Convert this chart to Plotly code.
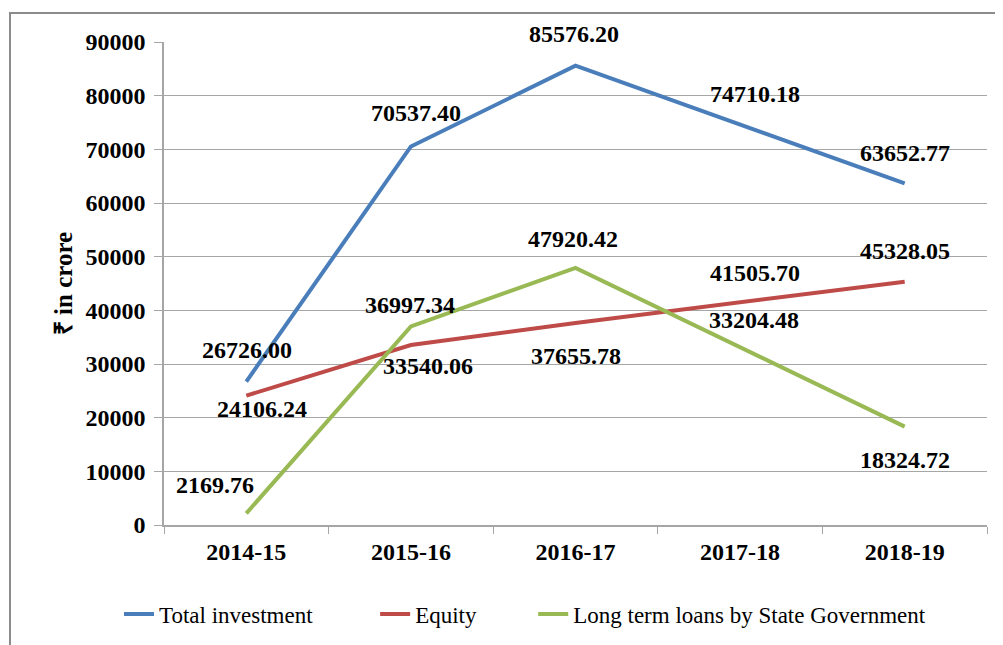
import plotly.graph_objects as go

years = ["2014-15", "2015-16", "2016-17", "2017-18", "2018-19"]
total_investment = [26726.00, 70537.40, 85576.20, 74710.18, 63652.77]
equity = [24106.24, 33540.06, 37655.78, 41505.70, 45328.05]
long_term_loans = [2169.76, 36997.34, 47920.42, 33204.48, 18324.72]

series_names = ["Total investment", "Equity", "Long term loans by State Government"]
series_values = [total_investment, equity, long_term_loans]
colors = ["#4A7EBB", "#BE4B48", "#98B954"]

# pixel offsets of the data labels (dx, dy up)
label_offsets = [
    [(1, 32), (5, 33), (-2, 32), (15, 30), (0, 30)],
    [(16, -13), (17, -21), (0, -33), (15, 29), (0, 31)],
    [(-31, 28), (-1, 21), (-3, 29), (14, 27), (0, -33)],
]
legend_pads = [10, 9, 0]

FONT = "Liberation Serif"
GRID = "#A6A6A6"
OFF = 8  # page body margin
L, R, T, B = 164 - OFF, 16 + OFF, 42 - OFF, 120 + OFF
W, H = 1003, 645
PW, PH = W - L - R, H - T - B

def px_x(sx):
    return (sx - OFF - L) / PW

def px_y(sy):
    return (H - B - (sy - OFF)) / PH

fig = go.Figure()
for name, vals, col, pad in zip(series_names, series_values, colors, legend_pads):
    fig.add_trace(go.Scatter(
        x=years, y=vals, name=name + "\u00a0" * pad, mode="lines",
        line=dict(color=col, width=4),
    ))

annotations = []
for vals, offs in zip(series_values, label_offsets):
    for xv, yv, (dx, dy) in zip(years, vals, offs):
        annotations.append(dict(
            x=xv, y=yv, xref="x", yref="y", text=f"{yv:.2f}",
            showarrow=False, xshift=dx, yshift=dy,
            font=dict(family=FONT, size=24, color="black", weight="bold"),
        ))

fig.update_layout(
    width=W, height=H,
    margin=dict(l=L, r=R, t=T, b=B, autoexpand=False),
    paper_bgcolor="white", plot_bgcolor="white",
    showlegend=True,
    legend=dict(
        orientation="h", x=px_x(119), xanchor="left",
        y=px_y(614), yanchor="middle",
        font=dict(family=FONT, size=23, color="black"),
        tracegroupgap=0,
    ),
    annotations=annotations,
    shapes=[dict(
        type="rect", xref="paper", yref="paper",
        x0=px_x(10), x1=px_x(1020),
        y0=px_y(660), y1=px_y(13),
        line=dict(color="#8C8C8C", width=2), fillcolor="rgba(0,0,0,0)",
        layer="below",
    )],
)

fig.update_xaxes(
    type="category", range=[-0.5, 4.5], automargin=False,
    showline=True, linecolor=GRID, linewidth=1.5,
    ticks="outside", tickson="boundaries", ticklen=7, tickcolor=GRID,
    showgrid=False, ticklabelstandoff=4,
    tickfont=dict(family=FONT, size=24, color="black", weight="bold"),
)
fig.update_yaxes(
    range=[0, 90000], dtick=10000, tickformat="d", automargin=False,
    showline=True, linecolor=GRID, linewidth=1.5,
    ticks="outside", ticklen=8, tickcolor=GRID,
    showgrid=True, gridcolor=GRID, gridwidth=1.2,
    zeroline=False, ticklabelstandoff=4,
    tickfont=dict(family=FONT, size=24, color="black", weight="bold"),
    title=dict(text="₹ in crore", standoff=6,
               font=dict(family=FONT, size=25, color="black", weight="bold")),
)

fig.write_html("out.html")
